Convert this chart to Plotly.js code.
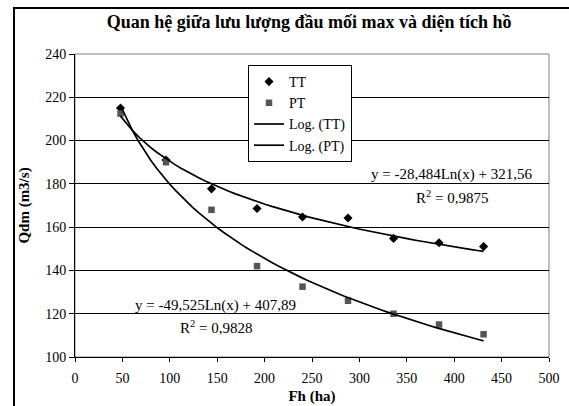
<!DOCTYPE html>
<html>
<head>
<meta charset="utf-8">
<script src="https://cdn.plot.ly/plotly-3.0.1.min.js"></script>
<style>html,body{margin:0;padding:0;background:#fff;}#chart{width:569px;height:406px;}</style>
</head>
<body>
<div id="chart"></div>
<script>
// Data
const areaFh = [48, 96, 144, 192, 240, 288, 336, 384, 431];
const qTT = [215, 191, 177.7, 168.6, 164.7, 164.2, 154.8, 152.8, 151];
const qPT = [212.5, 190, 168, 142, 132.5, 126, 120, 115, 110.5];
// Logarithmic trendline coefficients as printed on the chart: y = a*Ln(x) + b
const coefTT = [-28.484, 321.56];
const coefPT = [-49.525, 407.89];
const eqTT = ["y = -28,484Ln(x) + 321,56", "R<sup>2</sup> = 0,9875"];
const eqPT = ["y = -49,525Ln(x) + 407,89", "R<sup>2</sup> = 0,9828"];
const xTicks = [0, 50, 100, 150, 200, 250, 300, 350, 400, 450, 500];
const yTicks = [100, 120, 140, 160, 180, 200, 220, 240];

function trend(coef) {
  const xs = [], ys = [];
  const x0 = Math.min(...areaFh), x1 = Math.max(...areaFh);
  const n = 60;
  for (let i = 0; i <= n; i++) {
    const x = x0 + (x1 - x0) * i / n;
    xs.push(x);
    ys.push(coef[0] * Math.log(x) + coef[1]);
  }
  return {x: xs, y: ys};
}
const tTT = trend(coefTT), tPT = trend(coefPT);

const FONT = "Liberation Serif";

const traces = [
  {x: areaFh, y: qTT, name: "TT", mode: "markers", type: "scatter", legendgroup: "a",
   marker: {symbol: "diamond", size: 7, color: "#000"}},
  {x: areaFh, y: qPT, name: "PT", mode: "markers", type: "scatter", legendgroup: "b",
   marker: {symbol: "square", size: 6.5, color: "#555"}},
  {x: tTT.x, y: tTT.y, name: "Log. (TT)", mode: "lines", type: "scatter", legendgroup: "c",
   line: {color: "#000", width: 1.7}},
  {x: tPT.x, y: tPT.y, name: "Log. (PT)", mode: "lines", type: "scatter", legendgroup: "d",
   line: {color: "#000", width: 1.7}}
];

const layout = {
  width: 569, height: 406,
  margin: {l: 75, r: 20, t: 54, b: 49},
  paper_bgcolor: "#fff", plot_bgcolor: "#fff",
  font: {family: FONT, size: 14, color: "#000"},
  title: {text: "<b>Quan hệ giữa lưu lượng đầu mối max và diện tích hồ</b>",
          font: {family: FONT, size: 18, color: "#000"},
          xref: "paper", x: 0.494, xanchor: "center",
          yref: "container", y: 1 - 22/406, yanchor: "middle"},
  xaxis: {range: [0, 500], tickvals: xTicks, ticktext: xTicks.map(String),
          showgrid: false, zeroline: false, showline: true, linecolor: "#000", linewidth: 1,
          ticks: "outside", ticklen: 4, tickcolor: "#000", ticklabelstandoff: 4,
          tickfont: {family: FONT, size: 14},
          title: {text: "<b>Fh (ha)</b>", font: {family: FONT, size: 15}, standoff: 5}},
  yaxis: {range: [100, 240], tickvals: yTicks, ticktext: yTicks.map(String),
          showgrid: true, gridcolor: "#000", gridwidth: 1, zeroline: false,
          showline: true, linecolor: "#000", linewidth: 1,
          ticks: "outside", ticklen: 5, tickcolor: "#000",
          tickfont: {family: FONT, size: 14},
          title: {text: "<b>Qdm (m3/s)</b>", font: {family: FONT, size: 15}, standoff: 11}},
  showlegend: true,
  legend: {x: (248-75)/474, y: (357-65)/303, xanchor: "left", yanchor: "top",
           bgcolor: "#fff", bordercolor: "#000", borderwidth: 1,
           font: {family: FONT, size: 14}, tracegroupgap: 0, itemwidth: 30},
  shapes: [
    {type: "rect", xref: "paper", yref: "paper", x0: 0, x1: 1, y0: 0, y1: 1,
     line: {color: "#808080", width: 1}, layer: "below"},
    {type: "rect", xref: "paper", yref: "paper",
     x0: (14-75)/474, x1: (580-75)/474, y0: (357-420)/303, y1: (357-8)/303,
     line: {color: "#000", width: 2}, fillcolor: "rgba(0,0,0,0)", layer: "above"}
  ],
  annotations: [
    {xref: "x", yref: "y", x: (452-75)/474*500, y: 240 - (174-54)/(303/140), text: eqTT[0],
     showarrow: false, font: {family: FONT, size: 15}, xanchor: "center", yanchor: "middle"},
    {xref: "x", yref: "y", x: (452-75)/474*500, y: 240 - (197-54)/(303/140), text: eqTT[1],
     showarrow: false, font: {family: FONT, size: 15}, xanchor: "center", yanchor: "middle"},
    {xref: "x", yref: "y", x: (215-75)/474*500, y: 240 - (305-54)/(303/140), text: eqPT[0],
     showarrow: false, font: {family: FONT, size: 15}, xanchor: "center", yanchor: "middle"},
    {xref: "x", yref: "y", x: (216-75)/474*500, y: 240 - (327-54)/(303/140), text: eqPT[1],
     showarrow: false, font: {family: FONT, size: 15}, xanchor: "center", yanchor: "middle"}
  ]
};

Plotly.newPlot("chart", traces, layout, {displayModeBar: false, staticPlot: true});
</script>
</body>
</html>
